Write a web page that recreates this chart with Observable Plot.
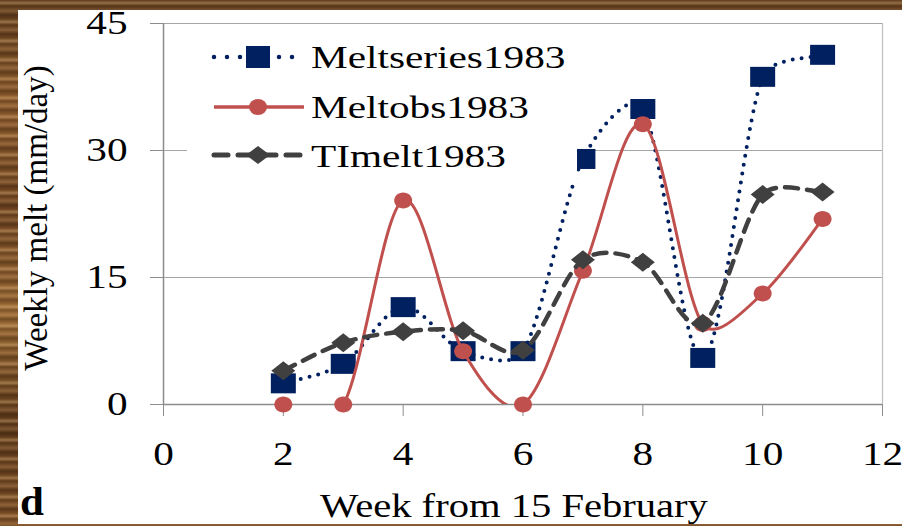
<!DOCTYPE html>
<html>
<head>
<meta charset="utf-8">
<script src="https://cdn.jsdelivr.net/npm/d3@7"></script>
<script src="https://cdn.jsdelivr.net/npm/@observablehq/plot@0.6"></script>
<style>
  html, body { margin: 0; padding: 0; }
  body {
    width: 902px; height: 526px; position: relative; overflow: hidden;
    font-family: "Liberation Serif", "Times New Roman", serif;
    background:
      repeating-linear-gradient(180deg, rgba(255,220,160,0.0) 0px, rgba(255,210,150,0.35) 3px, rgba(60,30,10,0.3) 6px, rgba(255,200,140,0.2) 11px, rgba(40,20,5,0.35) 15px, rgba(255,220,160,0.0) 19px),
      linear-gradient(180deg, #5c3a1c 0%, #8a5a2c 20%, #6b4220 40%, #9a6a34 60%, #5a381a 80%, #7a4e26 100%);
  }
  #panel { position: absolute; left: 18px; top: 10px; width: 884px; height: 514px; background: #fff; }
  #chart, #overlay { position: absolute; left: 0; top: 0; }
</style>
</head>
<body>
<div id="panel">
  <div id="chart"></div>
  <div id="overlay"></div>
</div>
<script>
// ---- data ----
const weeks = [2, 3, 4, 5, 6, 7, 8, 9, 10, 11];
const meltseries1983 = [2.5, 4.8, 11.5, 6.3, 6.3, 29.0, 34.9, 5.5, 38.7, 41.3];
const meltobs1983    = [0, 0, 24.1, 6.3, 0, 15.8, 33.1, 9.5, 13.1, 21.9];
const timelt1983     = [4.0, 7.3, 8.6, 8.7, 6.4, 17.1, 16.8, 9.6, 24.8, 25.1];
const seriesNames = ["Meltseries1983", "Meltobs1983", "TImelt1983"];
const xTicks = [0, 2, 4, 6, 8, 10, 12];
const yTicks = [0, 15, 30, 45];
const xTitle = "Week from 15 February";
const yTitle = "Weekly melt (mm/day)";
const panelLetter = "d";

const navy = "#002060", red = "#c0504d", gray = "#404040";
const FONT = "Liberation Serif, Times New Roman, serif";

const squareSym = { draw(ctx) { ctx.rect(-12.5, -10, 25, 20); } };
const diamondSym = { draw(ctx) { ctx.moveTo(-12, 0); ctx.lineTo(0, -9.5); ctx.lineTo(12, 0); ctx.lineTo(0, 9.5); ctx.closePath(); } };
const ellipseSym = { draw(ctx) {
  const a = 9, b = 8, k = 0.5523;
  ctx.moveTo(a, 0);
  ctx.bezierCurveTo(a, k * b, k * a, b, 0, b);
  ctx.bezierCurveTo(-k * a, b, -a, k * b, -a, 0);
  ctx.bezierCurveTo(-a, -k * b, -k * a, -b, 0, -b);
  ctx.bezierCurveTo(k * a, -b, a, -k * b, a, 0);
  ctx.closePath();
} };

// spreadsheet-style smoothed line: Catmull-Rom (1/6) Bezier handles,
// each handle limited to a third of its own segment length
function smoothCurve(context) {
  let pts;
  const handle = (a, b, segLen) => {
    let dx = (b[0] - a[0]) / 6, dy = (b[1] - a[1]) / 6;
    const len = Math.hypot(dx, dy), lim = segLen / 3;
    if (len > lim && len > 0) { dx *= lim / len; dy *= lim / len; }
    return [dx, dy];
  };
  return {
    areaStart() {}, areaEnd() {},
    lineStart() { pts = []; },
    point(x, y) { pts.push([+x, +y]); },
    lineEnd() {
      const n = pts.length;
      if (!n) return;
      context.moveTo(pts[0][0], pts[0][1]);
      for (let i = 0; i < n - 1; i++) {
        const p0 = pts[i - 1] || pts[i], p1 = pts[i], p2 = pts[i + 1], p3 = pts[i + 2] || pts[i + 1];
        const seg = Math.hypot(p2[0] - p1[0], p2[1] - p1[1]);
        const h1 = handle(p0, p2, seg), h2 = handle(p1, p3, seg);
        context.bezierCurveTo(p1[0] + h1[0], p1[1] + h1[1], p2[0] - h2[0], p2[1] - h2[1], p2[0], p2[1]);
      }
    }
  };
}

const mk = (vals) => weeks.map((w, i) => ({ week: w, value: vals[i] }));
const dS = mk(meltseries1983), dO = mk(meltobs1983), dT = mk(timelt1983);

const axisColor = "#8c8c8c";
const chart = Plot.plot({
  width: 884, height: 514,
  marginLeft: 145, marginRight: 20, marginTop: 13, marginBottom: 120,
  style: { fontFamily: FONT, background: "transparent", overflow: "visible" },
  x: { domain: [0, 12] },
  y: { domain: [0, 45] },
  marks: [
    Plot.gridY(yTicks.filter(d => d > 0), { stroke: "#a6a6a6", strokeOpacity: 1, strokeWidth: 1.2 }),
    Plot.ruleX([12], { stroke: "#bfbfbf", strokeWidth: 1.2 }),
    Plot.axisX({ ticks: xTicks, tickSize: 12, tickPadding: 25, fontSize: 33, stroke: axisColor, fill: "#000", label: null, tickFormat: d => String(d) }),
    Plot.axisY({ ticks: yTicks, tickSize: 13, tickPadding: 23, fontSize: 33, stroke: axisColor, fill: "#000", label: null, tickFormat: d => String(d) }),
    Plot.ruleY([0], { stroke: axisColor, strokeWidth: 1.5 }),
    Plot.ruleX([0], { stroke: axisColor, strokeWidth: 1.5 }),
    // Meltseries1983
    Plot.line(dS, { x: "week", y: "value", curve: smoothCurve, stroke: navy, strokeWidth: 4, strokeDasharray: "0 9", strokeLinecap: "round", clip: true }),
    Plot.dot(dS, { x: "week", y: "value", symbol: squareSym, r: 10, fill: navy, stroke: "none" }),
    // Meltobs1983
    Plot.line(dO, { x: "week", y: "value", curve: smoothCurve, stroke: red, strokeWidth: 3, clip: true }),
    Plot.dot(dO, { x: "week", y: "value", symbol: ellipseSym, r: 9, fill: red, stroke: "none" }),
    // TImelt1983
    Plot.line(dT, { x: "week", y: "value", curve: smoothCurve, stroke: gray, strokeWidth: 4.5, strokeDasharray: "13 9", strokeLinecap: "round", clip: true }),
    Plot.dot(dT, { x: "week", y: "value", symbol: diamondSym, r: 10, fill: gray, stroke: "none" })
  ]
});
document.getElementById("chart").appendChild(chart);

// stretch tick labels horizontally around their anchor (the reference text is wide)
function stretchTexts(sel, s, anchor) {
  chart.querySelectorAll(sel).forEach(t => {
    let bb;
    try { bb = t.getBBox(); } catch (e) { return; }
    if (!bb || !isFinite(bb.x)) return;
    const cx = anchor === "end" ? bb.x + bb.width : bb.x + bb.width / 2;
    const tr = t.getAttribute("transform") || "";
    t.setAttribute("transform", `${tr} translate(${cx},0) scale(${s},1) translate(${-cx},0)`);
  });
}
stretchTexts('g[aria-label="x-axis tick label"] text', 1.25, "middle");
stretchTexts('g[aria-label="y-axis tick label"] text', 1.25, "end");

// ---- overlay: legend and titles ----
const svg = d3.select("#overlay").append("svg")
  .attr("width", 884).attr("height", 514)
  .style("font-family", FONT).style("overflow", "visible");

svg.append("rect").attr("x", 169).attr("y", 20).attr("width", 390).attr("height", 152).attr("fill", "#fff");

const legendDefs = [
  { color: navy, dash: "0 13", width: 4.5, cap: "round", sym: "square" },
  { color: red, dash: null, width: 3.5, cap: "butt", sym: "circle" },
  { color: gray, dash: "14 10", width: 5, cap: "round", sym: "diamond" }
];
const rowCenters = [47, 97, 145];
const rowBaselines = [58, 108, 157];
legendDefs.forEach((d, i) => {
  const g = svg.append("g").attr("transform", `translate(0,${rowCenters[i]})`);
  const ln = g.append("line").attr("x1", 196).attr("x2", 286).attr("y1", 0).attr("y2", 0)
    .attr("stroke", d.color).attr("stroke-width", d.width).attr("stroke-linecap", d.cap);
  if (d.dash) ln.attr("stroke-dasharray", d.dash);
  if (d.sym === "square") g.append("rect").attr("x", 228).attr("y", -11).attr("width", 24).attr("height", 22).attr("fill", d.color);
  if (d.sym === "circle") g.append("ellipse").attr("cx", 240).attr("cy", 0).attr("rx", 9).attr("ry", 8).attr("fill", d.color);
  if (d.sym === "diamond") g.append("path").attr("d", "M228,0 L240,-9 L252,0 L240,9 Z").attr("fill", d.color);
  svg.append("text").attr("transform", `translate(293,${rowBaselines[i]}) scale(1.29,1)`)
    .attr("font-size", 32).attr("fill", "#000").text(seriesNames[i]);
});

svg.append("text").attr("transform", "translate(496,507) scale(1.23,1)")
  .attr("text-anchor", "middle").attr("font-size", 33).attr("fill", "#000").text(xTitle);
svg.append("text").attr("transform", "translate(29,208) rotate(-90)")
  .attr("text-anchor", "middle").attr("font-size", 33).attr("fill", "#000").text(yTitle);
svg.append("text").attr("transform", "translate(2,505) scale(1.1,1)")
  .attr("font-size", 39).attr("font-weight", "bold").attr("fill", "#000").text(panelLetter);
</script>
</body>
</html>
